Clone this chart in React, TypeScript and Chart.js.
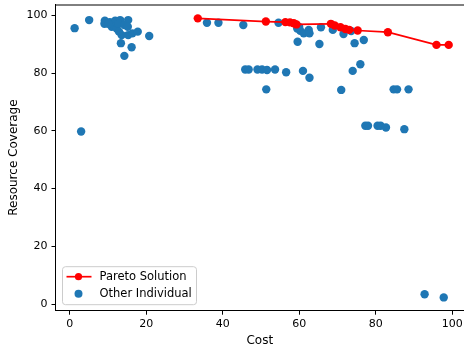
import React, { useEffect, useRef } from "react";
import { Chart, registerables } from "chart.js";

Chart.register(...registerables);

// Pareto front: cost vs. resource coverage
const paretoCost = [33.5, 51.3, 56.4, 57.6, 58.6, 59.3, 68.3, 69.3, 70.8, 72.1, 73.1, 75.3, 83.2, 95.9, 99.1];
const paretoCoverage = [99.0, 97.9, 97.7, 97.6, 97.3, 96.9, 97.1, 96.5, 95.9, 95.3, 95.0, 94.8, 94.2, 89.8, 89.8];

// Remaining individuals of the population
const otherCost = [
  1.3, 3.0, 5.1, 9.2, 9.1, 10.5, 11.9, 13.2, 15.3, 11.0, 12.3, 10.1, 12.7, 14.3, 15.2,
  13.6, 12.9, 15.3, 16.4, 17.8, 20.8, 13.4, 16.2, 14.3,
  35.9, 38.9, 45.4, 54.6, 59.5, 60.3, 61.2, 62.5, 62.7, 60.0, 59.6, 65.7, 65.3, 68.8,
  71.6, 73.6, 74.5, 76.9,
  45.9, 46.8, 49.1, 50.3, 51.6, 53.7, 56.6, 61.0, 62.7, 74.0, 76.0,
  51.4, 71.0, 84.7, 85.6, 88.6,
  77.3, 78.0, 80.5, 81.3, 82.7, 87.5,
  92.8, 97.8,
];
const otherCoverage = [
  95.6, 59.8, 98.4, 98.2, 97.1, 97.7, 98.2, 98.4, 98.4, 96.1, 95.5, 97.1, 97.1, 96.7, 96.1,
  93.2, 94.4, 93.2, 93.8, 94.4, 92.9, 90.4, 89.0, 86.0,
  97.5, 97.5, 96.7, 97.5, 95.5, 94.7, 93.8, 95.0, 93.8, 96.0, 90.9, 95.9, 90.1, 95.0,
  93.6, 94.6, 90.4, 91.5,
  81.3, 81.3, 81.3, 81.3, 81.1, 81.3, 80.3, 80.8, 78.4, 80.8, 83.1,
  74.4, 74.2, 74.4, 74.4, 74.4,
  61.8, 61.8, 61.8, 61.8, 61.2, 60.6,
  3.4, 2.3,
];

const xTicks = [0, 20, 40, 60, 80, 100];
const yTicks = [0, 20, 40, 60, 80, 100];

const FONT = "'DejaVu Sans', sans-serif";
const RED = "#ff0000";
const BLUE = "#1f77b4";

// Top spine and an in-plot legend in the lower-left corner
const framePlugin = {
  id: "frame",
  afterDraw(chart: any) {
    const { ctx, chartArea } = chart;
    ctx.save();
    ctx.strokeStyle = "#000";
    ctx.lineWidth = 1;
    ctx.beginPath();
    ctx.moveTo(chartArea.left, chartArea.top + 0.5);
    ctx.lineTo(chartArea.right, chartArea.top + 0.5);
    ctx.stroke();

    // legend box
    const bx = chartArea.left + 7;
    const bw = 134;
    const bh = 38;
    const by = chartArea.bottom - 6 - bh;
    const r = 3;
    ctx.beginPath();
    ctx.moveTo(bx + r, by);
    ctx.lineTo(bx + bw - r, by);
    ctx.quadraticCurveTo(bx + bw, by, bx + bw, by + r);
    ctx.lineTo(bx + bw, by + bh - r);
    ctx.quadraticCurveTo(bx + bw, by + bh, bx + bw - r, by + bh);
    ctx.lineTo(bx + r, by + bh);
    ctx.quadraticCurveTo(bx, by + bh, bx, by + bh - r);
    ctx.lineTo(bx, by + r);
    ctx.quadraticCurveTo(bx, by, bx + r, by);
    ctx.closePath();
    ctx.fillStyle = "rgba(255,255,255,0.8)";
    ctx.fill();
    ctx.strokeStyle = "#cccccc";
    ctx.lineWidth = 1;
    ctx.stroke();

    const row1 = by + 10;
    const row2 = by + 27;
    const mx = bx + 16;
    ctx.strokeStyle = RED;
    ctx.lineWidth = 1.7;
    ctx.beginPath();
    ctx.moveTo(bx + 4, row1);
    ctx.lineTo(bx + 29, row1);
    ctx.stroke();
    ctx.fillStyle = RED;
    ctx.beginPath();
    ctx.arc(mx, row1, 3.6, 0, Math.PI * 2);
    ctx.fill();
    ctx.fillStyle = BLUE;
    ctx.beginPath();
    ctx.arc(mx, row2, 4, 0, Math.PI * 2);
    ctx.fill();

    ctx.fillStyle = "#000";
    ctx.font = `11.5px ${FONT}`;
    ctx.textBaseline = "middle";
    ctx.textAlign = "left";
    ctx.fillText("Pareto Solution", bx + 37, row1);
    ctx.fillText("Other Individual", bx + 37, row2);
    ctx.restore();
  },
};

export default function App() {
  const canvasRef = useRef<HTMLCanvasElement | null>(null);

  useEffect(() => {
    const canvas = canvasRef.current;
    if (!canvas) return;
    const chart = new Chart(canvas, {
      type: "scatter",
      data: {
        datasets: [
          {
            type: "line",
            label: "Pareto Solution",
            data: paretoCost.map((x, i) => ({ x, y: paretoCoverage[i] })),
            borderColor: RED,
            backgroundColor: RED,
            borderWidth: 1.7,
            pointRadius: 4.2,
            pointBorderWidth: 0,
            pointBackgroundColor: RED,
            tension: 0,
            fill: false,
          },
          {
            type: "scatter",
            label: "Other Individual",
            data: otherCost.map((x, i) => ({ x, y: otherCoverage[i] })),
            backgroundColor: BLUE,
            borderWidth: 0,
            pointRadius: 4.2,
          },
        ],
      },
      options: {
        responsive: false,
        animation: false,
        devicePixelRatio: 1,
        layout: { autoPadding: false, padding: { top: 4.5, right: 0, left: 0, bottom: 0 } },
        plugins: {
          legend: { display: false },
          tooltip: { enabled: false },
        },
        scales: {
          x: {
            type: "linear",
            min: -3.7,
            max: 103.1,
            afterBuildTicks: (axis: any) => {
              axis.ticks = xTicks.map((v) => ({ value: v }));
            },
            afterFit: (axis: any) => {
              axis.height = 42.3;
              axis.paddingLeft = 0;
              axis.paddingRight = 0;
            },
            grid: { drawOnChartArea: false, drawTicks: true, tickLength: 4, color: "#000" },
            border: { display: true, color: "#000", width: 1 },
            ticks: { color: "#000", font: { family: FONT, size: 11 }, padding: 3, maxRotation: 0 },
            title: {
              display: true,
              text: "Cost",
              color: "#000",
              font: { family: FONT, size: 12 },
              padding: { top: 0, bottom: 5 },
            },
          },
          y: {
            type: "linear",
            min: -2.3,
            max: 103.8,
            afterBuildTicks: (axis: any) => {
              axis.ticks = yTicks.map((v) => ({ value: v }));
            },
            afterFit: (axis: any) => {
              axis.width = 55.5;
              axis.paddingTop = 0;
              axis.paddingBottom = 0;
            },
            grid: { drawOnChartArea: false, drawTicks: true, tickLength: 4, color: "#000" },
            border: { display: true, color: "#000", width: 1 },
            ticks: { color: "#000", font: { family: FONT, size: 11 }, padding: 4 },
            title: {
              display: true,
              text: "Resource Coverage",
              color: "#000",
              font: { family: FONT, size: 12 },
              padding: { top: 7, bottom: 0 },
            },
          },
        },
      },
      plugins: [framePlugin],
    });
    return () => chart.destroy();
  }, []);

  return (
    <div style={{ position: "fixed", left: 0, top: 0, width: 464, height: 353, background: "#fff" }}>
      <canvas ref={canvasRef} width={464} height={353} style={{ display: "block" }} />
    </div>
  );
}
